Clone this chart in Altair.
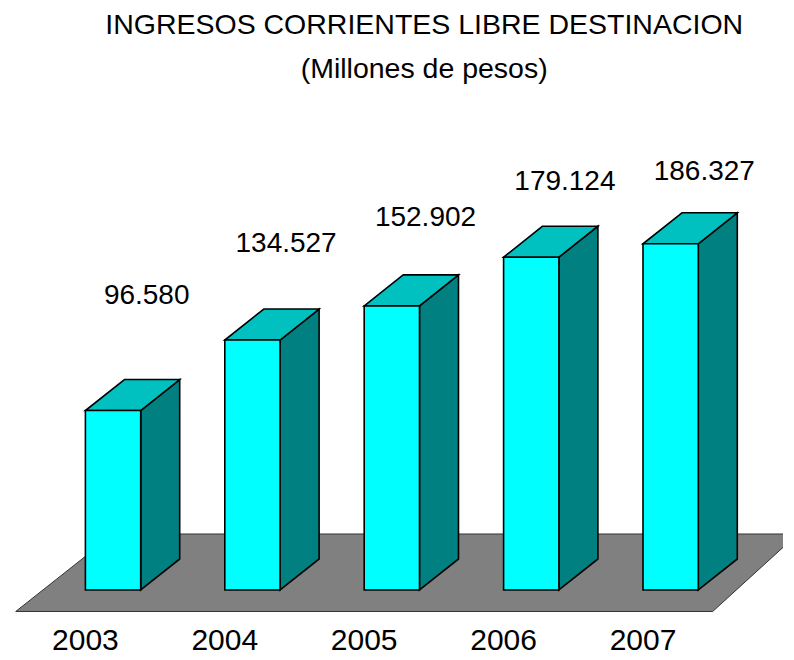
import altair as alt
import pandas as pd

# ---- data ----
years = ["2003", "2004", "2005", "2006", "2007"]
values = [96580, 134527, 152902, 179124, 186327]
value_labels = ["96.580", "134.527", "152.902", "179.124", "186.327"]
title_lines = ["INGRESOS CORRIENTES LIBRE DESTINACION", "(Millones de pesos)"]

# ---- geometry of the pseudo-3D projection ----
PX_PER_UNIT = 1.858 / 1000.0
PLOT_W = 697
PLOT_H = 512
ZERO_LIFT = 21.5                      # px between floor front edge and bar bases
Y_MIN = -ZERO_LIFT / PX_PER_UNIT
Y_MAX = (PLOT_H - ZERO_LIFT) / PX_PER_UNIT
SLOT_PX = PLOT_W / 5.0
BAR_W = 55.3 / SLOT_PX
DEPTH_X = 39.0 / SLOT_PX
DEPTH_Y = 31.0 / PX_PER_UNIT
FLOOR_BACK_Y = Y_MIN + 77.5 / PX_PER_UNIT
FLOOR_BACK_L = 98.0 / SLOT_PX
FLOOR_BACK_R = 5 + 85.0 / SLOT_PX
LABEL_DX = 61.3 / SLOT_PX

xs = alt.Scale(domain=[0, 5], nice=False, zero=False)
ys = alt.Scale(domain=[Y_MIN, Y_MAX], nice=False, zero=False)

# ---- derived tables ----
floor_df = pd.DataFrame({
    "y": [Y_MIN, FLOOR_BACK_Y],
    "xl": [0.0, FLOOR_BACK_L],
    "xr": [5.0, FLOOR_BACK_R],
})

front_rows, side_rows, top_rows, lab_rows = [], [], [], []
for i, (yr, v, lab) in enumerate(zip(years, values, value_labels)):
    x0 = i + 0.5
    x1 = x0 + BAR_W
    front_rows.append({"year": yr, "x0": x0, "x1": x1, "base": 0.0, "v": v})
    side_rows.append({"year": yr, "x": x1, "lo": 0.0, "hi": v})
    side_rows.append({"year": yr, "x": x1 + DEPTH_X, "lo": DEPTH_Y, "hi": v + DEPTH_Y})
    top_rows.append({"year": yr, "y": v, "xl": x0, "xr": x1})
    top_rows.append({"year": yr, "y": v + DEPTH_Y, "xl": x0 + DEPTH_X, "xr": x1 + DEPTH_X})
    lab_rows.append({"year": yr, "label": lab, "v": v, "slot": i})

front_df = pd.DataFrame(front_rows)
side_df = pd.DataFrame(side_rows)
top_df = pd.DataFrame(top_rows)
lab_df = pd.DataFrame(lab_rows)

floor = alt.Chart(floor_df).mark_area(
    orient="horizontal", fill="#808080", stroke="#333333", strokeWidth=1
).encode(
    y=alt.Y("y:Q", scale=ys, axis=None),
    x=alt.X("xl:Q", scale=xs, title=None,
            axis=alt.Axis(values=[0, 1, 2, 3, 4, 5], labels=False, ticks=True,
                          tickSize=7, tickColor="#808080", tickWidth=1.5,
                          domain=False, grid=False)),
    x2="xr:Q",
)

side = alt.Chart(side_df).mark_area(
    fill="#008080", stroke="black", strokeWidth=1.6
).encode(
    x=alt.X("x:Q", scale=xs, axis=None),
    y=alt.Y("lo:Q", scale=ys, axis=None),
    y2="hi:Q",
    detail="year:N",
)

top = alt.Chart(top_df).mark_area(
    orient="horizontal", fill="#00C0C0", stroke="black", strokeWidth=1.6
).encode(
    y=alt.Y("y:Q", scale=ys, axis=None),
    x=alt.X("xl:Q", scale=xs, axis=None),
    x2="xr:Q",
    detail="year:N",
)

front = alt.Chart(front_df).mark_rect(
    fill="#00FFFF", stroke="black", strokeWidth=1.6
).encode(
    x=alt.X("x0:Q", scale=xs, axis=None),
    x2="x1:Q",
    y=alt.Y("base:Q", scale=ys, axis=None),
    y2="v:Q",
)

value_text = alt.Chart(lab_df).transform_calculate(
    lx=f"datum.slot + 0.5 + {LABEL_DX}",
    ly="0.745 * datum.v + 81900",
).mark_text(
    font="Liberation Sans", fontSize=28, baseline="alphabetic",
    align="center", color="black"
).encode(
    x=alt.X("lx:Q", scale=xs, axis=None),
    y=alt.Y("ly:Q", scale=ys, axis=None),
    text="label:N",
)

year_text = alt.Chart(lab_df).transform_calculate(
    lx="datum.slot + 0.5",
    ly=f"{Y_MIN}",
).mark_text(
    font="Liberation Sans", fontSize=30, baseline="alphabetic",
    align="center", color="black", dy=39
).encode(
    x=alt.X("lx:Q", scale=xs, axis=None),
    y=alt.Y("ly:Q", scale=ys, axis=None),
    text="year:N",
)

chart = alt.layer(floor, side, top, front, value_text, year_text).properties(
    width=PLOT_W,
    height=PLOT_H,
    title=alt.TitleParams(
        title_lines,
        font="Liberation Sans",
        fontSize=28.5, fontWeight="normal", color="black",
        anchor="middle", dx=60, offset=-13, baseline="bottom", lineHeight=44,
    ),
    autosize=alt.AutoSizeParams(type="none"),
    padding={"left": 7.7, "top": 91.5, "right": 70, "bottom": 45},
).configure_view(stroke=None)

chart.save("out.html", embed_options={"renderer": "svg", "actions": False})
